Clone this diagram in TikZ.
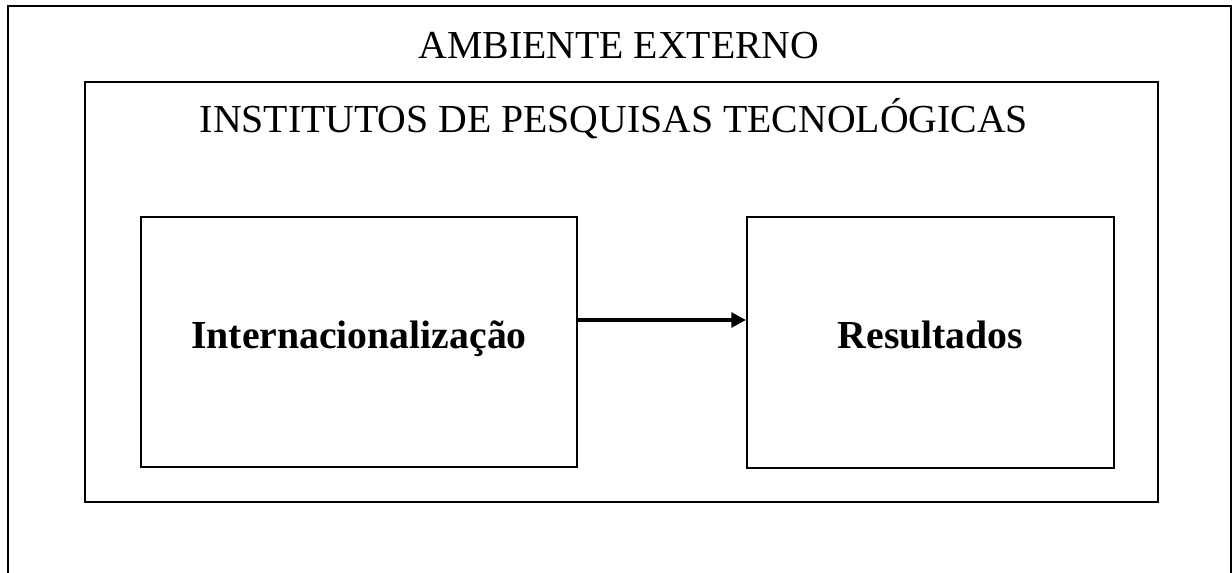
\documentclass[tikz,border=0pt]{standalone}
\usepackage{fontspec}
\setmainfont{Liberation Serif}
\usetikzlibrary{arrows.meta}
\begin{document}
\begin{tikzpicture}[x=0.75pt,y=0.75pt,yscale=-1,
  frame/.style={draw=black,line width=1.5pt,inner sep=0pt,fill=none},
  title/.style={font=\fontsize{29.8}{34}\selectfont,inner sep=0pt,anchor=base},
  label/.style={font=\fontsize{29.8}{34}\selectfont\bfseries,inner sep=0pt,anchor=base}]
\useasboundingbox (0,0) rectangle (1232,572);
\fill[white] (0,0) rectangle (1232,572);
\node[frame,minimum width=1223*0.75pt,minimum height=594*0.75pt] (outer) at (619.5,303) {};
\node[frame,minimum width=1073*0.75pt,minimum height=420*0.75pt] (inner) at (621.5,292) {};
\node[frame,minimum width=436*0.75pt,minimum height=250*0.75pt] (left) at (359,342) {};
\node[frame,minimum width=367*0.75pt,minimum height=251*0.75pt] (right) at (930.5,342.5) {};
\node[title] (t1) at (619,58) {AMBIENTE EXTERNO};
\node[title] (t2) at (614,132) {INSTITUTOS DE PESQUISAS TECNOLÓGICAS};
\node[label] (l1) at (359,348) {Internacionalização};
\node[label] (l2) at (930.5,348) {Resultados};
\draw[line width=3pt,-{Triangle[length=11pt,width=11pt]}] (left.east |- 0,320) -- (right.west |- 0,320);
\end{tikzpicture}
\end{document}
